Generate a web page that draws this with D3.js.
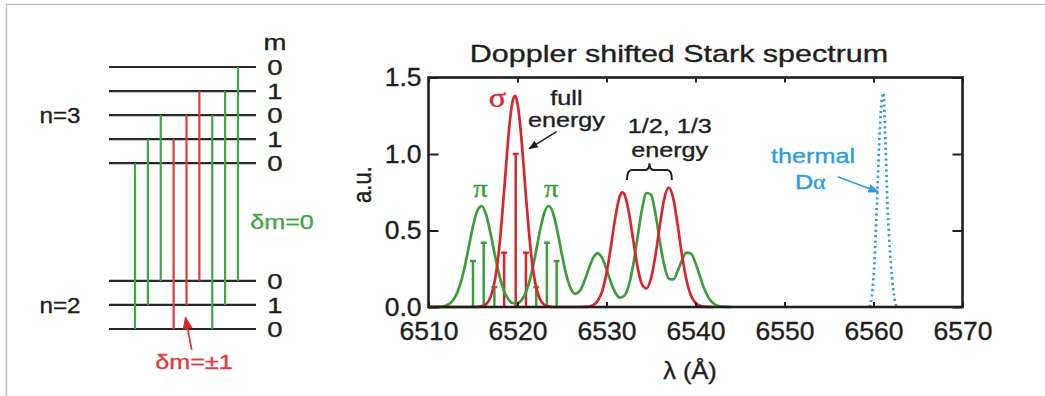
<!DOCTYPE html>
<html>
<head>
<meta charset="utf-8">
<script src="https://cdn.jsdelivr.net/npm/d3@7"></script>
<style>
  body { margin: 0; background: #fff; }
  svg { display: block; }
  text { paint-order: stroke; }
</style>
</head>
<body>
<div id="chart"></div>
<script>
// ---- energy level diagram (schematic energy units) ----
const upperLevels = [6.9, 7.9, 8.9, 9.9, 10.9]
const upperM = ["0", "1", "0", "1", "0"]
const lowerLevels = [0, 1, 2]
const lowerM = ["0", "1", "0"]
// [upper level index, lower level index, kind]
const transitions = [
  [0, 0, "pi"], [1, 1, "pi"], [2, 2, "pi"],
  [1, 0, "sigma"], [2, 1, "sigma"], [3, 2, "sigma"],
  [2, 0, "pi"], [3, 1, "pi"], [4, 2, "pi"]
]

// ---- spectrum ----
const xTicks = [6510, 6520, 6530, 6540, 6550, 6560, 6570]
const yTicks = [0, 0.5, 1.0, 1.5]

const piCurve = [
  [6510, 0], [6511, 0.001], [6511.5, 0.003], [6512, 0.01], [6512.5, 0.028], [6513, 0.066],
  [6513.5, 0.136], [6514, 0.245], [6514.5, 0.385], [6515, 0.528], [6515.5, 0.632], [6516, 0.66],
  [6516.5, 0.598], [6517, 0.473], [6517.5, 0.327], [6518, 0.197], [6518.5, 0.103], [6519, 0.049],
  [6519.5, 0.025], [6520, 0.025], [6520.5, 0.048], [6521, 0.104], [6521.5, 0.202], [6522, 0.339],
  [6522.5, 0.491], [6523, 0.613], [6523.5, 0.66], [6524, 0.613], [6524.5, 0.491], [6525, 0.339],
  [6525.5, 0.207], [6526, 0.119], [6526.5, 0.086], [6527, 0.105], [6527.5, 0.166], [6528, 0.249],
  [6528.5, 0.321], [6529, 0.35], [6529.5, 0.321], [6530, 0.247], [6530.5, 0.16], [6531, 0.093],
  [6531.5, 0.061], [6532, 0.073], [6532.5, 0.141], [6533, 0.275], [6533.5, 0.46], [6534, 0.64],
  [6534.5, 0.745], [6535, 0.735], [6535.5, 0.61], [6536, 0.425], [6536.5, 0.27], [6537, 0.185],
  [6537.5, 0.18], [6538, 0.236], [6538.5, 0.309], [6539, 0.355], [6539.5, 0.349], [6540, 0.288],
  [6540.5, 0.2], [6541, 0.117], [6541.5, 0.057], [6542, 0.024], [6542.5, 0.008], [6543, 0.002],
  [6544, 0]
]

const sigmaCurve = [
  [6510, 0], [6515, 0], [6515.5, 0.001], [6516, 0.005], [6516.5, 0.02], [6517, 0.068],
  [6517.5, 0.187], [6518, 0.418], [6518.5, 0.761], [6519, 1.127], [6519.25, 1.27], [6519.5, 1.357],
  [6519.75, 1.38], [6520, 1.33], [6520.25, 1.218], [6520.5, 1.06], [6521, 0.687], [6521.5, 0.362],
  [6522, 0.155], [6522.5, 0.054], [6523, 0.015], [6523.5, 0.004], [6524, 0], [6527, 0],
  [6527.5, 0.001], [6528, 0.003], [6528.5, 0.012], [6529, 0.039], [6529.5, 0.101], [6530, 0.22],
  [6530.5, 0.396], [6531, 0.589], [6531.5, 0.725], [6531.75, 0.75], [6532, 0.739], [6532.5, 0.623],
  [6533, 0.437], [6533.5, 0.259], [6534, 0.146], [6534.5, 0.121], [6535, 0.188], [6535.5, 0.337],
  [6536, 0.535], [6536.5, 0.71], [6537, 0.78], [6537.5, 0.71], [6538, 0.534], [6538.5, 0.333],
  [6539, 0.172], [6539.5, 0.073], [6540, 0.026], [6540.5, 0.008], [6541, 0.002], [6542, 0]
]

const thermalCurve = [
  [6559.55, 0], [6559.7, 0.03], [6560.1, 0.285], [6560.4, 0.7], [6560.7, 1.15], [6560.95, 1.36],
  [6561.1, 1.4], [6561.3, 1.15], [6561.55, 0.7], [6561.95, 0.285], [6562.45, 0.03], [6562.6, 0]
]

const piSticks = [[6515.0, 0.30], [6516.2, 0.42], [6517.4, 0.13], [6522.1, 0.13], [6523.3, 0.42], [6524.4, 0.30]]
const sigmaSticks = [[6518.5, 0.355], [6519.8, 1.0], [6520.95, 0.355]]

const RED = "#d7262e", GREEN = "#3d9d3d", BLUE = "#2e9be0", INK = "#1e1e1e"
const SX = 1.2 // source picture is stretched sideways

const width = 1045, height = 396
const svg = d3.select("#chart").append("svg").attr("width", width).attr("height", height)

function txt(g, x, y, s, o = {}) {
  const c = o.color || INK
  return g.append("text")
    .attr("transform", `translate(${x},${y}) scale(${o.sx || SX},1)`)
    .attr("text-anchor", o.anchor || "middle")
    .attr("font-family", o.serif ? "'Liberation Serif', 'DejaVu Serif', serif" : "'Liberation Sans', Arial, sans-serif")
    .attr("font-size", o.size || 21)
    .attr("fill", c).attr("stroke", c).attr("stroke-width", 0.35)
    .text(s)
}

const defs = svg.append("defs")
function marker(id, color) {
  defs.append("marker").attr("id", id)
    .attr("viewBox", "0 0 10 10").attr("refX", 9).attr("refY", 5)
    .attr("markerWidth", 7).attr("markerHeight", 7).attr("orient", "auto")
    .append("path").attr("d", "M0,1 L10,5 L0,9 Z").attr("fill", color)
}
marker("ah-black", INK); marker("ah-blue", BLUE); marker("ah-red", RED)

// page frame (screenshot edge)
svg.append("path").attr("d", "M6.5,396 V4.5 H1045").attr("fill", "none").attr("stroke", "#c4c4c4").attr("stroke-width", 1.5)

// ================= left: level diagram =================
const L = svg.append("g")
const ey = d3.scaleLinear().domain([0, 10.9]).range([329, 67])
const tx = d3.scalePoint().domain(d3.range(transitions.length)).range([135, 238])

L.selectAll(".lvl").data(upperLevels.concat(lowerLevels)).join("line")
  .attr("x1", 109).attr("x2", 256)
  .attr("y1", d => ey(d)).attr("y2", d => ey(d))
  .attr("stroke", "#2a2a2a").attr("stroke-width", 2.2)

L.selectAll(".tr").data(transitions).join("line")
  .attr("x1", (d, i) => tx(i)).attr("x2", (d, i) => tx(i))
  .attr("y1", d => ey(upperLevels[d[0]])).attr("y2", d => ey(lowerLevels[d[1]]))
  .attr("stroke", d => d[2] === "pi" ? "#3fa845" : "#e0393e").attr("stroke-width", 2.2)

upperLevels.forEach((e, i) => txt(L, 275, ey(e) + 8, upperM[i], { size: 22, sx: 1.25 }))
lowerLevels.forEach((e, i) => txt(L, 275, ey(e) + 8, lowerM[i], { size: 22, sx: 1.25 }))
txt(L, 275, ey(11.73) + 3, "m", { size: 22, sx: 1.25 })
txt(L, 60, ey(upperLevels[2]) + 8, "n=3", { size: 22, sx: 1.1 })
txt(L, 60, ey(lowerLevels[1]) + 8, "n=2", { size: 22, sx: 1.1 })
txt(L, 282, ey(4.45) + 7, "δm=0", { size: 21, color: "#3fa845" })
txt(L, 194, ey(-1.37) + 7, "δm=±1", { size: 21, color: "#e0393e" })
L.append("line")
  .attr("x1", 191.7).attr("y1", ey(-0.87)).attr("x2", 185.5).attr("y2", ey(0.48))
  .attr("stroke", "#e0393e").attr("stroke-width", 1.8).attr("marker-end", "url(#ah-red)")

// ================= right: spectrum =================
const x = d3.scaleLinear().domain([6510, 6570]).range([428.5, 962.5])
const y = d3.scaleLinear().domain([0, 1.5]).range([307, 77.5])
const S = svg.append("g")

const line = d3.line().x(d => x(d[0])).y(d => y(d[1])).curve(d3.curveMonotoneX)

// sticks
function sticks(data, color) {
  const g = S.append("g").attr("stroke", color).attr("stroke-width", 2.5)
  g.selectAll("line.s").data(data).join("line")
    .attr("x1", d => x(d[0])).attr("x2", d => x(d[0]))
    .attr("y1", y(0)).attr("y2", d => y(d[1]))
  g.selectAll("line.c").data(data).join("line")
    .attr("x1", d => x(d[0]) - 3).attr("x2", d => x(d[0]) + 3)
    .attr("y1", d => y(d[1])).attr("y2", d => y(d[1]))
}
sticks(piSticks, GREEN)
sticks(sigmaSticks, RED)

S.append("path").attr("d", line(piCurve)).attr("fill", "none").attr("stroke", GREEN).attr("stroke-width", 2.7)
S.append("path").attr("d", line(sigmaCurve)).attr("fill", "none").attr("stroke", RED).attr("stroke-width", 2.7)
S.append("path").attr("d", line(thermalCurve)).attr("fill", "none").attr("stroke", BLUE)
  .attr("stroke-width", 2.7).attr("stroke-dasharray", "2.2 3.2")

// axes (ticks pointing inward)
const fmtX = d3.format("d"), fmtY = d3.format(".1f")
const TSX = 1.06
const ax = [
  S.append("g").attr("transform", `translate(0,${y(0)})`)
    .call(d3.axisBottom(x).tickValues(xTicks).tickSizeInner(-5).tickSizeOuter(0).tickPadding(15).tickFormat(fmtX)),
  S.append("g").attr("transform", `translate(0,${y(1.5)})`)
    .call(d3.axisTop(x).tickValues(xTicks).tickSizeInner(-5).tickSizeOuter(0).tickFormat("")),
  S.append("g").attr("transform", `translate(${x(6510)},0)`)
    .call(d3.axisLeft(y).tickValues(yTicks).tickSizeInner(-10).tickSizeOuter(0).tickPadding(7).tickFormat(fmtY)),
  S.append("g").attr("transform", `translate(${x(6570)},0)`)
    .call(d3.axisRight(y).tickValues(yTicks).tickSizeInner(-10).tickSizeOuter(0).tickFormat(""))
]
ax.forEach(g => {
  g.select(".domain").remove()
  g.selectAll(".tick line").attr("stroke", INK).attr("stroke-width", 2)
  g.selectAll(".tick text").attr("font-family", "'Liberation Sans', Arial, sans-serif")
    .attr("font-size", 25).attr("fill", INK).attr("stroke", INK).attr("stroke-width", 0.35)
})
ax[0].selectAll(".tick text").attr("transform", `scale(${TSX},1)`)
ax[2].selectAll(".tick text").attr("transform", `scale(${TSX},1)`).attr("x", -7 / TSX)

S.append("rect").attr("x", x(6510)).attr("y", y(1.5))
  .attr("width", x(6570) - x(6510)).attr("height", y(0) - y(1.5))
  .attr("fill", "none").attr("stroke", INK).attr("stroke-width", 2.6)

// titles
txt(S, 679, 62, "Doppler shifted Stark spectrum", { size: 24, sx: 1.27 })
txt(S, 690, 379, "λ (Å)", { size: 23, sx: 1.1 })
S.append("text")
  .attr("transform", `translate(371,${y(0.8)}) rotate(-90) scale(1,${SX})`)
  .attr("text-anchor", "middle")
  .attr("font-family", "'Liberation Sans', Arial, sans-serif")
  .attr("font-size", 22).attr("fill", INK).attr("stroke", INK).attr("stroke-width", 0.35).text("a.u.")

// annotations
txt(S, x(6517.75), y(1.31), "σ", { serif: true, size: 28, color: RED, sx: 1.15 })
txt(S, x(6515.85), y(0.72), "π", { serif: true, size: 25, color: GREEN, sx: 1.15 })
txt(S, x(6523.8), y(0.72), "π", { serif: true, size: 25, color: GREEN, sx: 1.15 })
txt(S, x(6525.5), y(1.322), "full", { size: 21 })
txt(S, x(6525.5), y(1.178), "energy", { size: 21 })
S.append("line")
  .attr("x1", x(6524.4)).attr("y1", y(1.146)).attr("x2", x(6521.3)).attr("y2", y(1.035))
  .attr("stroke", INK).attr("stroke-width", 1.4).attr("marker-end", "url(#ah-black)")

txt(S, x(6537.1), y(1.135), "1/2, 1/3", { size: 21 })
txt(S, x(6537.1), y(0.982), "energy", { size: 21 })
{
  const x0 = x(6532.3), x1 = x(6537.35), xm = (x0 + x1) / 2
  const yb = y(0.83), yl = y(0.895), yt = y(0.94)
  S.append("path")
    .attr("d", `M${x0},${yb} Q${x0},${yl} ${x0 + 5},${yl} L${xm - 5},${yl} Q${xm},${yl} ${xm},${yt} Q${xm},${yl} ${xm + 5},${yl} L${x1 - 5},${yl} Q${x1},${yl} ${x1},${yb}`)
    .attr("fill", "none").attr("stroke", INK).attr("stroke-width", 2)
}

txt(S, x(6553.2), y(0.939), "thermal", { size: 21, color: BLUE })
const da = txt(S, x(6552.9), y(0.77), "D", { size: 21, color: BLUE })
da.append("tspan").attr("font-family", "'Liberation Serif', serif").attr("font-size", 20).text("α")
S.append("line")
  .attr("x1", x(6555.98)).attr("y1", y(0.852)).attr("x2", x(6560.55)).attr("y2", y(0.752))
  .attr("stroke", BLUE).attr("stroke-width", 1.6).attr("marker-end", "url(#ah-blue)")
</script>
</body>
</html>
